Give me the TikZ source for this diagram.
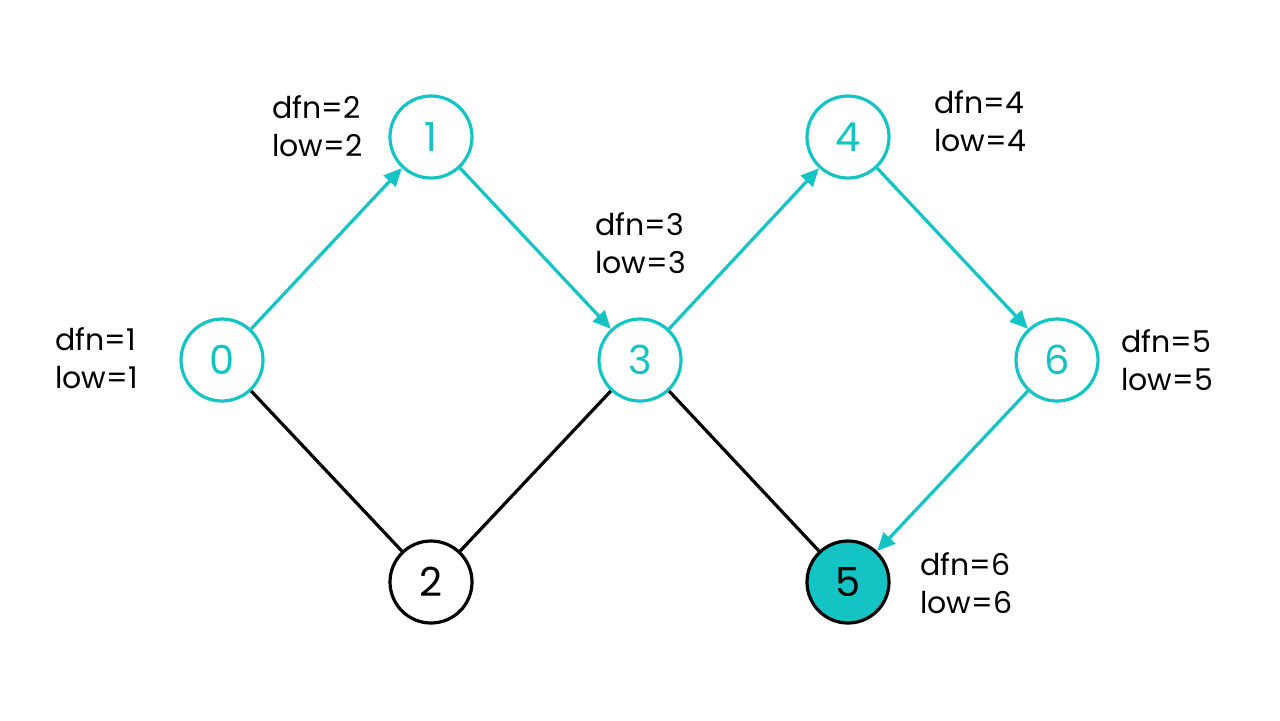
\documentclass[tikz,border=0pt]{standalone}
\usepackage{fontspec}
\setmainfont{Poppins}
\usetikzlibrary{arrows.meta}
\definecolor{tealc}{RGB}{20,196,196}
\tikzset{
  vnode/.style={circle,draw=tealc,line width=1.6pt,minimum size=41pt,inner sep=0pt,text=tealc,font=\fontsize{20}{24}\selectfont},
  bnode/.style={vnode,draw=black,text=black},
  fnode/.style={vnode,draw=black,fill=tealc,text=black},
  info/.style={anchor=west,align=left,inner sep=0pt,font=\fontsize{15}{19}\selectfont},
  tarc/.style={draw=tealc,line width=1.6pt,-{Triangle[length=9pt,width=8pt]}},
  barc/.style={draw=black,line width=1.6pt}
}
\begin{document}
\begin{tikzpicture}[x=0.5pt,y=-0.5pt]
\useasboundingbox (0,0) rectangle (1280,720);
\node[vnode] (n0) at (222,360) {0};
\node[vnode] (n1) at (431,137) {1};
\node[vnode] (n3) at (640,360) {3};
\node[vnode] (n4) at (848,137) {4};
\node[vnode] (n6) at (1057,360) {6};
\node[bnode] (n2) at (431,582) {2};
\node[fnode] (n5) at (848,582) {5};
\draw[tarc] (n0) -- (n1);
\draw[tarc] (n1) -- (n3);
\draw[tarc] (n3) -- (n4);
\draw[tarc] (n4) -- (n6);
\draw[tarc] (n6) -- (n5);
\draw[barc] (n0) -- (n2);
\draw[barc] (n2) -- (n3);
\draw[barc] (n3) -- (n5);
\node[info] (l0) at (55,358) {dfn=1\\low=1};
\node[info] (l1) at (272,126) {dfn=2\\low=2};
\node[info] (l3) at (595,243) {dfn=3\\low=3};
\node[info] (l4) at (934,121) {dfn=4\\low=4};
\node[info] (l6) at (1121,360) {dfn=5\\low=5};
\node[info] (l5) at (920,583) {dfn=6\\low=6};
\end{tikzpicture}
\end{document}
